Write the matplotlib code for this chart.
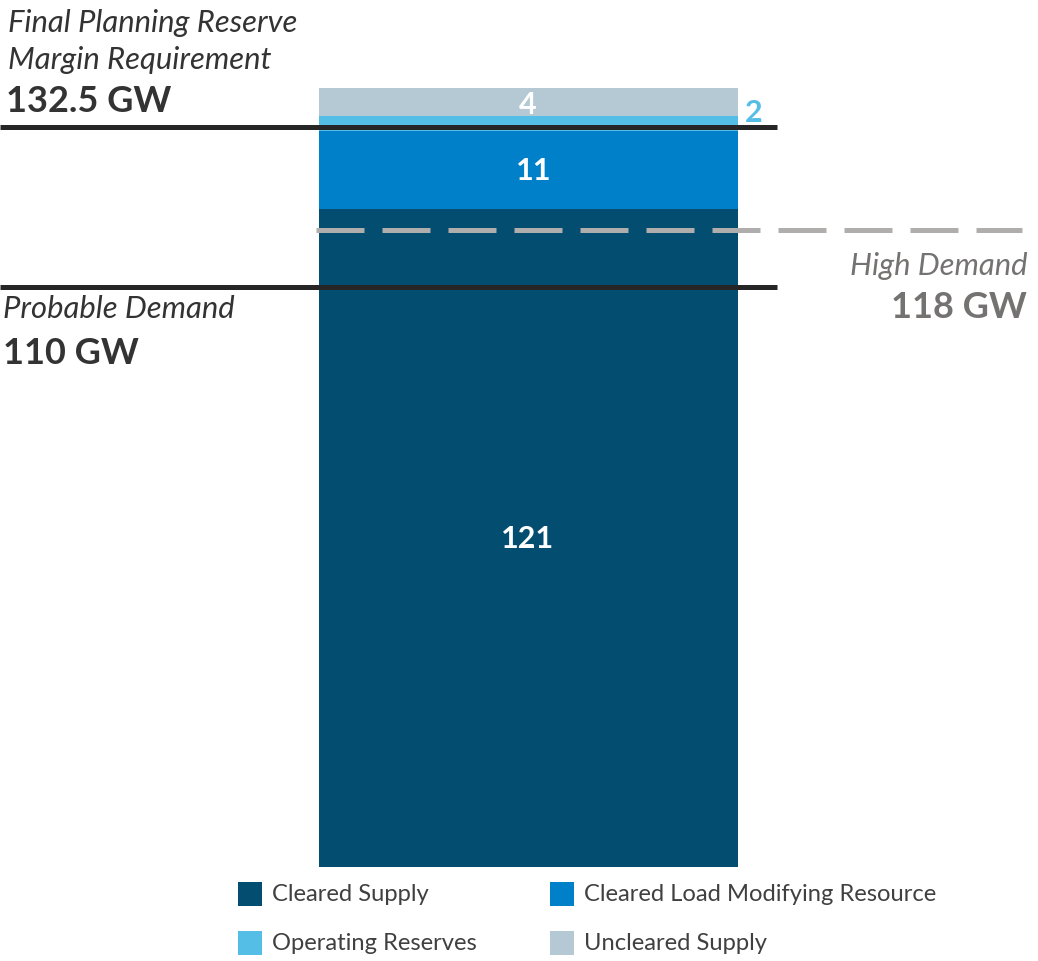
import matplotlib.pyplot as plt
from matplotlib.patches import Rectangle

# stacked bar segments (GW)
segments = ["Cleared Supply", "Cleared Load Modifying Resource", "Operating Reserves", "Uncleared Supply"]
values = [121, 11, 2, 4]
colors = ["#024d70", "#0080c9", "#55bee6", "#b4c9d3"]

# reference levels (GW)
prmr = 132.5
probable_demand = 110
high_demand = 118

W, H = 1038, 962
plt.rcParams['font.family'] = ['Lato', 'DejaVu Sans']

fig = plt.figure(figsize=(W / 100, H / 100), dpi=100)
ax = fig.add_axes([0, (H - 868) / H, 1, 868 / H])
ax.set_xlim(0, W)
ax.set_ylim(28.4, 150.5)
ax.axis("off")

bottom = 0
for v, c in zip(values, colors):
    ax.bar(528.5, v, width=419, bottom=bottom, color=c, linewidth=0)
    bottom += v

ax.plot([0, 777], [prmr, prmr], color="#262626", lw=3.6, solid_capstyle="butt")
ax.plot([0, 777], [probable_demand, probable_demand], color="#262626", lw=3.6, solid_capstyle="butt")
ax.plot([316, 1022], [high_demand, high_demand], color="#b0adad", lw=3.6,
        dashes=(9.6, 3.6), solid_capstyle="butt")

# segment labels
cum = [sum(values[:i]) for i in range(len(values))]
ymin = ax.get_ylim()[0]
ax.text(528, (ymin + values[0]) / 2, str(values[0]), color="white", fontsize=22,
        fontweight="bold", ha="center", va="center")
ax.text(534, cum[1] + values[1] / 2, str(values[1]), color="white", fontsize=22,
        fontweight="bold", ha="center", va="center")
ax.text(528, cum[3] + values[3] / 2 - 0.2, str(values[3]), color="white", fontsize=22,
        fontweight="bold", ha="center", va="center")
ax.text(745, cum[2] + values[2] / 2 + 1.6, str(values[2]), color="#55bee6", fontsize=22,
        fontweight="bold", ha="left", va="center")


def ftext(x, y, s, **kw):
    fig.text(x / W, 1 - y / H, s, va="baseline", **kw)


dark = "#333333"
grey = "#757272"
ftext(8, 32, "Final Planning Reserve", fontsize=22.3, style="italic", color=dark)
ftext(8, 69, "Margin Requirement", fontsize=22.3, style="italic", color=dark)
ftext(6, 112, f"{prmr} GW", fontsize=26, fontweight="bold", color=dark)
ftext(3, 318, "Probable Demand", fontsize=22.3, style="italic", color=dark)
ftext(3, 364, f"{probable_demand} GW", fontsize=26, fontweight="bold", color=dark)
ftext(1027, 275, "High Demand", fontsize=22.3, style="italic", color=grey, ha="right")
ftext(1027, 318, f"{high_demand} GW", fontsize=26, fontweight="bold", color=grey, ha="right")

# legend
leg_pos = [(238, 895), (550, 895), (238, 944), (550, 944)]
for (x, y), name, c in zip(leg_pos, segments, colors):
    fig.patches.append(Rectangle((x / W, 1 - (y + 12) / H), 24 / W, 24 / H,
                                 transform=fig.transFigure, color=c, linewidth=0))
    fig.text((x + 34) / W, 1 - y / H, name, fontsize=17.1, color="#404040", va="center")

fig.savefig("out.png", dpi=100)
